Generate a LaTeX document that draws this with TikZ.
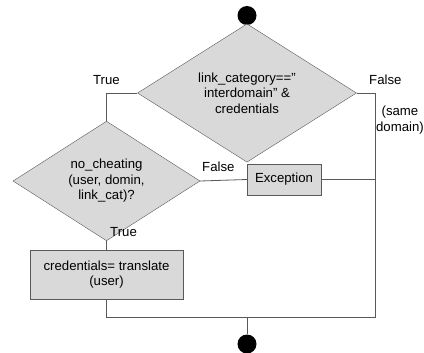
\documentclass[tikz,border=0pt]{standalone}
\usepackage{fontspec}
\setmainfont{Liberation Sans}
\usetikzlibrary{positioning,shapes.geometric}
\definecolor{fillclr}{rgb}{0.85, 0.85, 0.85}
\definecolor{lineclr}{rgb}{0.35, 0.35, 0.35}
\tikzset{ %
  ,every node/.style={font=\fontsize{13.2}{15.5}\selectfont}
  ,dot/.style={circle, fill=black, inner sep=0, minimum size=19pt}
  ,decision/.style={diamond, draw=lineclr, fill=fillclr, inner sep=0, align=center}
  ,action/.style={draw=lineclr, fill=fillclr, inner sep=0, align=center}
  ,lbl/.style={inner sep=0}
  ,flow/.style={draw=lineclr, line width=0.8pt}
}

\begin{document}
\begin{tikzpicture}[x=1pt, y=1pt]
    \useasboundingbox (0,0) rectangle (424,-353);
    \node[dot] (start) at (247,-15.5) {};
    \node[decision, minimum width=219pt, minimum height=93pt] (linkcat) at (247,-93)
      {link\_category==”\\interdomain” \&\\credentials};
    \node[decision, minimum width=187pt, minimum height=78pt] (cheat) at (106.5,-181)
      {no\_cheating\\(user, domin,\\link\_cat)?};
    \node[action, minimum width=74pt, minimum height=31pt] (exc) at (284,-179.5) {Exception};
    \node[action, minimum width=153pt, minimum height=49pt] (transl) at (106.5,-274.5)
      {credentials= translate\\(user)};
    \node[dot] (stop) at (247,-344) {};
    \coordinate (rb) at (375,-317);
    \coordinate (merge) at (247,-317);
    % labels
    \node[lbl, anchor=east] (t1) at (120,-80) {True};
    \node[lbl, anchor=west] (f1) at (369,-80) {False};
    \node[lbl, align=center] (same) at (400,-120) {(same\\domain)};
    \node[lbl, anchor=west] (f2) at (202,-167) {False};
    \node[lbl, anchor=west] (t2) at (110,-232) {True};
    % connectors
    \draw[flow] (start) -- (linkcat);
    \draw[flow] (linkcat.west) -| (cheat.north);
    \draw[flow] (linkcat.east) -| (rb) -- (transl.south |- rb) -- (transl.south);
    \draw[flow] (cheat.east) -- (exc.west);
    \draw[flow] (exc.east) -- (exc.east -| rb);
    \draw[flow] (cheat.south) -- (transl.north);
    \draw[flow] (merge) -- (stop);
\end{tikzpicture}
\end{document}
